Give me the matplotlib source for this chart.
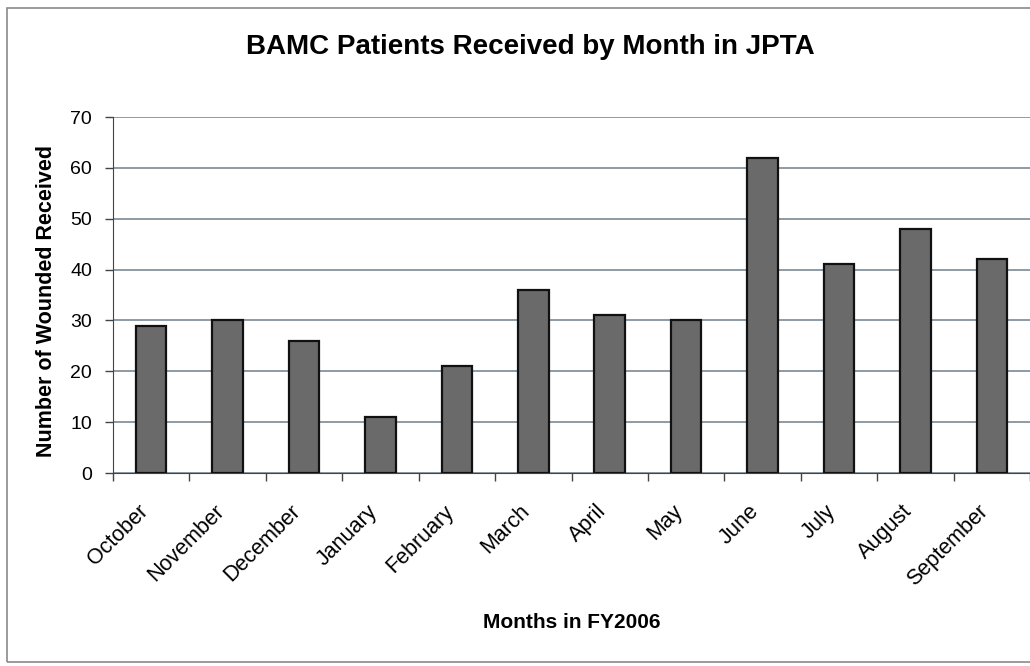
import matplotlib
matplotlib.use('Agg')
import matplotlib.pyplot as plt
from matplotlib.patches import Rectangle
from matplotlib.transforms import ScaledTranslation

plt.rcParams['font.family'] = ['Liberation Sans', 'DejaVu Sans']

months = ['October', 'November', 'December', 'January', 'February', 'March',
          'April', 'May', 'June', 'July', 'August', 'September']
wounded = [29, 30, 26, 11, 21, 36, 31, 30, 62, 41, 48, 42]

W, H = 1030, 666
fig = plt.figure(figsize=(W / 100, H / 100), dpi=100)

# outer chart border (right edge runs off the page)
fig.patches.append(Rectangle((7 / W, 1 - 662 / H), 1.2, (662 - 8) / H,
                             transform=fig.transFigure, fill=False,
                             edgecolor='#8a8a8a', linewidth=1.2))

ax = fig.add_axes([113 / W, 1 - 473 / H, (W - 113) / W, (473 - 117) / H])

x = range(len(months))
ax.bar(x, wounded, width=0.4, color='#6a6a6a', edgecolor='#111111',
       linewidth=1.6, zorder=3)

ax.set_xlim(-0.5, len(months) - 0.5)
ax.set_ylim(0, 70)
ax.set_yticks(range(0, 71, 10))
ax.yaxis.grid(True, color='#6f7e8c', linewidth=1.1, zorder=0)
ax.set_axisbelow(True)

ax.set_xticks([i - 0.5 for i in range(len(months) + 1)])
ax.set_xticks(list(x), minor=True)
ax.set_xticklabels([])
ax.set_xticklabels(months, minor=True, rotation=45, ha='right', va='top',
                   rotation_mode='anchor', fontsize=15.5)
ax.tick_params(axis='x', which='major', length=6, width=1, color='#444444',
               direction='out')
ax.tick_params(axis='x', which='minor', length=0, pad=20)
ax.tick_params(axis='y', length=6, width=1, color='#444444', labelsize=14,
               pad=9)
# month names end a little left of the bar centre
shift = ScaledTranslation(-0.14, 0, fig.dpi_scale_trans)
for lbl in ax.get_xticklabels(minor=True):
    lbl.set_transform(lbl.get_transform() + shift)

for side in ['top', 'right']:
    ax.spines[side].set_visible(False)
ax.spines['left'].set_color('#444444')
ax.spines['bottom'].set_color('#444444')

fig.text(530 / W, 1 - 47 / H, 'BAMC Patients Received by Month in JPTA',
         ha='center', va='center', fontsize=20, fontweight='bold')
fig.text(572 / W, 1 - 622 / H, 'Months in FY2006', ha='center', va='center',
         fontsize=15, fontweight='bold')
fig.text(47 / W, 1 - 301 / H, 'Number of Wounded Received', ha='center',
         va='center', rotation=90, fontsize=15.5, fontweight='bold')

fig.savefig('out.png', dpi=100)
